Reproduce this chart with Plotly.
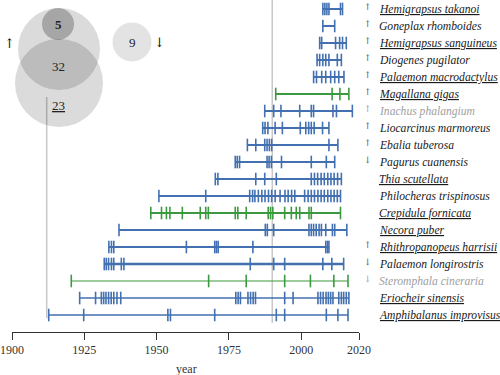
import plotly.graph_objects as go

# ---------------- data ----------------
species = ["Hemigrapsus takanoi", "Goneplax rhomboides", "Hemigrapsus sanguineus",
           "Diogenes pugilator", "Palaemon macrodactylus", "Magallana gigas",
           "Inachus phalangium", "Liocarcinus marmoreus", "Ebalia tuberosa",
           "Pagurus cuanensis", "Thia scutellata", "Philocheras trispinosus",
           "Crepidula fornicata", "Necora puber", "Rhithropanopeus harrisii",
           "Palaemon longirostris", "Steromphala cineraria", "Eriocheir sinensis",
           "Amphibalanus improvisus"]
trend = ["up", "up", "up", "up", "up", "up", "up", "up", "up", "down",
         "", "", "", "", "up", "down", "down", "", ""]
underlined = [True, False, True, False, True, True, False, False, False, False,
              True, False, True, True, True, False, False, True, True]
faded = [False, False, False, False, False, False, True, False, False, False,
         False, False, False, False, False, False, True, False, False]
taxon = ["crustacean"] * 5 + ["mollusc"] + ["crustacean"] * 6 + ["mollusc"] + \
        ["crustacean"] * 3 + ["mollusc"] + ["crustacean"] * 2

records = [
    [2007.5, 2008.2, 2008.9, 2009.6, 2013.6, 2014.3],
    [2007.5, 2011.6],
    [2006.4, 2007.1, 2011.9, 2013.3, 2014.3, 2015.6],
    [2005.5, 2006.4, 2007.5, 2008.5, 2009.6, 2012.5, 2013.9],
    [2004.3, 2005.3, 2007.1, 2008.5, 2010.2, 2011.6, 2013.0, 2014.8],
    [1991.2, 2010.7, 2013.4, 2016.5],
    [1987.4, 1990.5, 1993.0, 1999.5, 2003.5, 2004.3, 2011.0, 2012.2, 2017.7],
    [1986.7, 1987.5, 1988.5, 1991.0, 1993.5, 1999.7, 2001.6, 2002.6, 2003.5,
     2004.5, 2007.4, 2009.6],
    [1981.4, 1984.3, 1987.4, 1988.2, 1989.0, 1989.8, 2009.6, 2012.7],
    [1977.2, 1977.9, 1978.7, 1988.2, 1988.9, 1989.7, 1993.2, 2003.5, 2008.7, 2011.6],
    [1970.3, 1971.2, 1984.3, 1987.4, 1991.4, 2003.5, 2004.6, 2005.7, 2006.9,
     2008.0, 2009.2, 2010.3, 2011.4, 2012.6, 2013.9],
    [1950.8, 1967.0, 1982.2, 1983.2, 1984.0, 1985.2, 1986.4, 1987.5, 1988.7,
     1989.8, 1991.0, 1992.7, 1994.4, 1995.5, 1996.7, 1997.8, 2001.2, 2002.4,
     2003.5, 2004.6, 2005.8, 2006.9, 2008.0, 2009.2, 2010.3, 2011.4, 2012.5, 2013.6],
    [1948.0, 1951.7, 1953.4, 1954.6, 1958.9, 1965.1, 1967.0, 1967.9, 1977.2,
     1978.1, 1981.0, 1988.6, 1989.4, 1990.2, 1994.3, 1996.6, 1998.3, 1999.5,
     2002.7, 2003.5, 2013.6],
    [1937.0, 1987.6, 1988.3, 1990.5, 2002.7, 2003.5, 2004.3, 2005.2, 2006.2,
     2007.0, 2008.5, 2010.8, 2011.6, 2015.8],
    [1933.5, 1934.4, 1935.2, 1960.3, 1970.1, 1970.7, 1971.3, 1983.3, 2008.5,
     2009.1, 2009.6],
    [1931.9, 1932.6, 1933.4, 1934.4, 1935.2, 1937.8, 1938.7, 1982.4, 1990.5,
     1994.3, 2007.5, 2010.6, 2014.7],
    [1920.5, 1968.0, 1981.0, 1994.3, 2003.2, 2011.3, 2016.2],
    [1923.4, 1928.9, 1930.9, 1931.7, 1932.5, 1933.4, 1934.3, 1935.2, 1936.3,
     1937.6, 1977.4, 1978.2, 1979.0, 1981.6, 1982.5, 1983.4, 1984.2, 1994.3,
     1997.2, 2005.8, 2006.7, 2007.6, 2008.6, 2009.4, 2010.2, 2011.0, 2013.0,
     2013.9, 2014.7, 2015.6, 2016.5],
    [1912.7, 1924.8, 1953.9, 1954.8, 1970.1, 1991.4, 1994.3, 2008.7, 2012.7, 2016.2],
]

x_ticks = [1900, 1925, 1950, 1975, 2000, 2020]
reference_years = [1912, 1990]

venn_up_only = "5"
venn_both = "32"
venn_lower_only = "23"
venn_down = "9"

# ---------------- styles ----------------
colors = {"crustacean": "#4270b0", "mollusc": "#3b9a3f"}
row_line_width = [2, 2, 2, 2, 2, 2, 2, 2, 2, 2, 2, 2, 2, 2, 2, 2.6, 1.2, 1.3, 1.3]
FONT = "Liberation Serif, Times New Roman, Times, serif"
ARROW_FONT = "DejaVu Serif, DejaVu Sans, serif"

W, H = 500, 375
L, R, T, B = 12, 141, 0, 43
PW, PH = W - L - R, H - T - B
ROW0, ROWSTEP = 9, 17.0


def px2paper(px, py):
    return (px - L) / PW, 1 - (py - T) / PH


fig = go.Figure()

for i, (yrs, tx) in enumerate(zip(records, taxon)):
    c = colors[tx]
    fig.add_trace(go.Scatter(
        x=[min(yrs), max(yrs)], y=[i, i], mode="lines",
        line=dict(color=c, width=row_line_width[i]), hoverinfo="skip",
        showlegend=False))
    fig.add_trace(go.Scatter(
        x=yrs, y=[i] * len(yrs), mode="markers",
        marker=dict(symbol="line-ns", size=9,
                    line=dict(color=c, width=1.6)),
        showlegend=False))

shapes = []
shapes.append(dict(type="line", xref="x", yref="paper",
                   x0=reference_years[1], x1=reference_years[1],
                   y0=px2paper(0, 323)[1], y1=1.0,
                   line=dict(color="#c8c8c8", width=1.5), layer="below"))
shapes.append(dict(type="line", xref="x", yref="paper",
                   x0=reference_years[0], x1=reference_years[0],
                   y0=px2paper(0, 318)[1], y1=px2paper(0, 97)[1],
                   line=dict(color="#c8c8c8", width=1.5), layer="below"))


def circle(cx, cy, r, alpha):
    x0, y0 = px2paper(cx - r, cy + r)
    x1, y1 = px2paper(cx + r, cy - r)
    return dict(type="circle", xref="paper", yref="paper",
                x0=x0, y0=y0, x1=x1, y1=y1,
                fillcolor=f"rgba(0,0,0,{alpha})", line=dict(width=0),
                layer="above")


shapes += [circle(59, 49, 41, 0.14), circle(59, 83, 44, 0.14),
           circle(58, 24, 16, 0.24), circle(132, 42, 19.5, 0.11)]

annotations = []


def ptext(px, py, text, size=12, color="#222", family=FONT):
    x, y = px2paper(px, py)
    annotations.append(dict(x=x, y=y, xref="paper", yref="paper", text=text,
                            showarrow=False, xanchor="center", yanchor="middle",
                            font=dict(family=family, size=size, color=color)))


ptext(58, 24, f"<b>{venn_up_only}</b>", size=13)
ptext(58, 66, venn_both, size=13)
ptext(58, 106, f"<u>{venn_lower_only}</u>", size=13)
ptext(132, 42, venn_down, size=13)
ptext(9, 43, "↑", size=13, color="#111", family=ARROW_FONT)
ptext(159, 42, "↓", size=13, color="#111", family=ARROW_FONT)
ptext(186, 369, "year", size=12, color="#333")

arrow_glyph = {"up": "↑", "down": "↓", "": ""}
for i, name in enumerate(species):
    col = "#a0a0a0" if faded[i] else "#1a1a1a"
    t = f"<i>{name}</i>"
    if underlined[i]:
        t = f"<u>{t}</u>"
    annotations.append(dict(x=(377 - L) / PW, y=i, xref="paper", yref="y",
                            text=t, showarrow=False, xanchor="left",
                            yanchor="middle",
                            font=dict(family=FONT, size=11.6, color=col)))
    if trend[i]:
        annotations.append(dict(x=(368 - L) / PW, y=i - 0.12, xref="paper",
                                yref="y", text=arrow_glyph[trend[i]],
                                showarrow=False, xanchor="center",
                                yanchor="middle",
                                font=dict(family=ARROW_FONT, size=9,
                                          color="#999" if faded[i] else "#555")))

fig.update_layout(
    width=W, height=H, margin=dict(l=L, r=R, t=T, b=B),
    paper_bgcolor="white", plot_bgcolor="white",
    shapes=shapes, annotations=annotations, showlegend=False,
    font=dict(family=FONT),
    xaxis=dict(range=[1900, 2020], tickvals=x_ticks, ticks="outside",
               ticklen=7, tickcolor="#333", showline=True, linecolor="#333",
               linewidth=1, showgrid=False, zeroline=False,
               tickfont=dict(family=FONT, size=12, color="#333")),
    yaxis=dict(range=[(PH - ROW0) / ROWSTEP, -ROW0 / ROWSTEP], visible=False,
               showgrid=False, zeroline=False),
)

fig.write_html("out.html", config={"displayModeBar": False},
               post_script="document.body.style.margin='0px';"
                           "document.body.style.overflow='hidden';")
